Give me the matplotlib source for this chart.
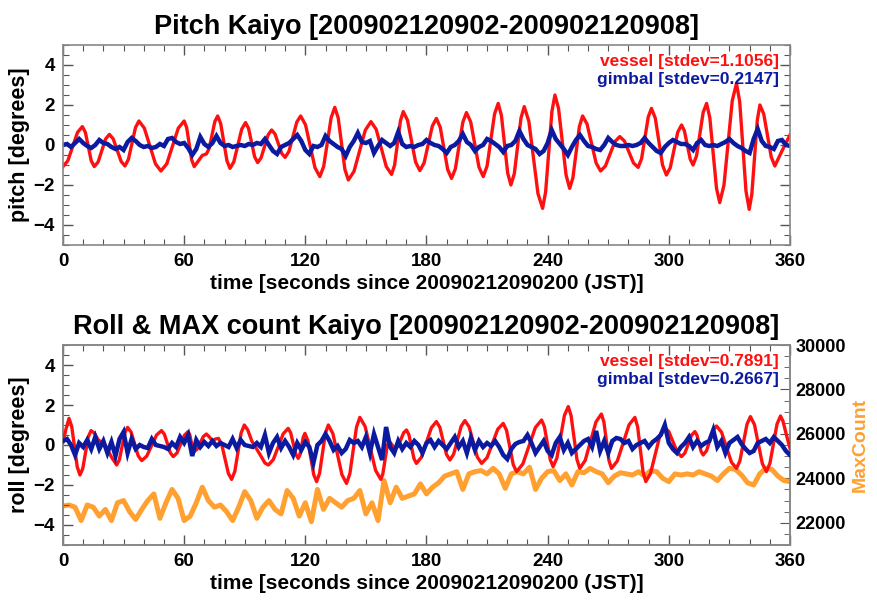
import numpy as np
import matplotlib
matplotlib.use("Agg")
import matplotlib.pyplot as plt
from matplotlib.ticker import MultipleLocator

plt.rcParams['font.family'] = ['Liberation Sans', 'DejaVu Sans']
plt.rcParams['font.weight'] = 'bold'

# ---- pitch panel: vessel (extrema and shoulders) ----
pitch_vessel_t = [0, 2.4, 7.2, 9.6, 11.1, 14.0, 15.5, 17.4, 21.1, 23, 24.9, 28.8, 30.7, 32.4,
                  35.9, 37.6, 40.3, 45.8, 48.5, 51.4, 57.1, 60, 61.25, 63.75, 65, 67, 69, 71,
                  72.4, 75.2, 76.6, 78.1, 81.2, 82.7, 84.6, 88.5, 90.4, 91.9, 94.9, 96.4, 98.1,
                  101.6, 103.3, 105, 108.3, 110, 111.9, 115.8, 117.7, 120.1, 124.8, 127.2,
                  129.1, 132.8, 134.6, 136.3, 139.6, 141.3, 144.1, 149.7, 152.5, 155.1, 160.1,
                  162.7, 164.2, 167.1, 168.5, 170.6, 174.6, 176.7, 178.8, 182.9, 184.9, 186.8,
                  190.5, 192.4, 194.3, 198, 199.8, 201.9, 206, 208.1, 210, 213.7, 215.5, 217.1,
                  220.2, 221.8, 223.5, 226.8, 228.4, 230.7, 235.2, 237.5, 239, 242.1, 243.6,
                  245.4, 249.1, 250.9, 252.5, 255.7, 257.3, 259.5, 264, 266.2, 268.6, 273.3,
                  275.7, 278, 282.5, 284.8, 286.5, 289.8, 291.4, 293.3, 296.9, 298.8, 300.7,
                  304.4, 306.3, 307.7, 310.6, 312, 313.7, 317, 318.7, 320.3, 323.6, 325.2,
                  327.3, 331.4, 333.5, 335.1, 338.2, 339.8, 341.1, 343.8, 345.1, 347, 350.7,
                  352.5, 356, 360]
pitch_vessel_v = [-1.08, -0.79, 0.63, 0.92, 0.63, -0.79, -1.08, -0.85, 0.30, 0.53, 0.30, -0.82,
                  -1.05, -0.72, 0.87, 1.2, 0.84, -0.94, -1.3, -0.94, 0.84, 1.2, 0.87, -0.75,
                  -1.08, -0.8, -0.52, -0.45, -0.17, 1.17, 1.45, 1.07, -0.79, -1.17, -0.84, 0.79,
                  1.12, 0.83, -0.59, -0.88, -0.64, 0.51, 0.75, 0.55, -0.42, -0.62, -0.32, 1.15,
                  1.45, 1.01, -1.14, -1.58, -1.07, 1.37, 1.88, 1.35, -1.22, -1.75, -1.32, 0.74,
                  1.17, 0.78, -1.08, -1.47, -1.01, 1.21, 1.67, 1.24, -0.85, -1.28, -0.9, 0.95,
                  1.33, 0.89, -1.23, -1.67, -1.19, 1.14, 1.62, 1.15, -1.11, -1.58, -1.05, 1.55,
                  2.08, 1.48, -1.4, -2.0, -1.43, 1.35, 1.92, 1.18, -2.43, -3.17, -2.34, 1.67,
                  2.5, 1.82, -1.49, -2.17, -1.64, 0.92, 1.45, 1.05, -0.9, -1.3, -1.05, 0.17,
                  0.42, 0.2, -0.9, -1.12, -0.69, 1.4, 1.83, 1.34, -1.01, -1.5, -1.14, 0.64, 1.0,
                  0.71, -0.71, -1.0, -0.55, 1.63, 2.08, 1.36, -2.16, -2.88, -2.01, 2.21, 3.08,
                  2.16, -2.3, -3.22, -2.46, 1.24, 2.0, 1.55, -0.6, -1.05, -0.3, 0.5]

# gimbal pitch, every 2 s
pitch_gimbal = [0.0, 0.05, -0.1, 0.1, 0.3, 0.1, -0.05, -0.15, 0.0, 0.25, 0.1, 0.05, -0.1, -0.2,
                -0.1, -0.25, 0.15, 0.35, 0.2, 0.0, -0.1, -0.05, -0.15, -0.1, 0.05, -0.05, 0.3,
                0.35, 0.15, 0.05, 0.1, -0.15, -0.5, -0.2, 0.4, 0.05, -0.1, 0.1, 0.45, 0.1,
                -0.05, 0.0, -0.1, -0.05, 0.0, -0.05, 0.05, 0.0, 0.1, 0.05, 0.3, 0.0, -0.3,
                -0.45, -0.1, 0.0, 0.1, 0.3, 0.5, 0.2,
                -0.25, -0.45, -0.05, -0.1, 0.0, 0.45, 0.2, 0.05, -0.1, -0.2, -0.55, -0.1, 0.2,
                0.6, 0.15, 0.1, 0.2, -0.4, -0.05, 0.25, 0.1, -0.05, 0.1, 0.65, 0.05, -0.1,
                -0.05, -0.1, 0.0, 0.05, 0.25, 0.1, 0.0, -0.05, -0.2, -0.4, -0.1, 0.0, 0.2,
                0.55, 0.15, 0.0, -0.3, -0.1, 0.0, 0.3, 0.2, 0.05, -0.1, -0.35, -0.05, 0.0,
                0.2, 0.7, 0.3, 0.0, -0.1, -0.2, -0.45, -0.3, 0.1, 0.75, 0.3, 0.05, -0.2, -0.5,
                -0.1, 0.25, 0.5, 0.2, -0.05, -0.1, -0.2, -0.25, 0.0, 0.35, 0.15, 0.0, -0.05,
                -0.05, 0.0, -0.05, 0.0, 0.1, 0.35, 0.1, -0.1, -0.3, -0.4, -0.1, 0.1, 0.25,
                0.15, 0.05, 0.05, -0.05, -0.25, 0.1, 0.25, 0.0, -0.05, 0.0, -0.05, 0.05, 0.15,
                0.3, 0.1, -0.05, -0.15, -0.3, -0.4, 0.3, 0.8, 0.2, -0.05, -0.1, -0.2, 0.2,
                0.25, 0.0, -0.05]

# ---- roll panel: vessel ----
roll_vessel_t = [0, 1.5, 3, 4.35, 7.05, 8.4, 9.8, 12.5, 13.9, 15.5, 17.5, 20.5, 24, 26.6,
                 27.95, 30.65, 32, 33.75, 37.25, 39, 41.45, 46.35, 48.8, 50.25, 53.15, 54.6,
                 56.45, 60.15, 62, 62.75, 64.25, 65, 66.5, 69.5, 71, 72.5, 74, 75.5, 77, 78.6,
                 81.9, 83.5, 85.1, 88.2, 89.8, 91.5, 93.5, 95.9, 98, 100, 101.7, 104.15,
                 109.05, 111.5, 112.75, 115.25, 116.5, 117.3, 119, 119.8, 121.25, 124.15,
                 125.6, 127.05, 129.95, 131.4, 133.65, 138.15, 140.4, 142.05, 145.35, 147,
                 149.6, 154.8, 157.4, 158.4, 160.5, 161.5, 163, 164.5, 165.9, 168.7, 170.1,
                 171.3, 173.8, 175, 177.5, 182.4, 184.9, 186.6, 189.9, 191.6, 193.45, 197.15,
                 199, 201.1, 205.2, 207.3, 210, 215.3, 218, 219.65, 222.95, 224.6, 227.7,
                 233.9, 237, 238.4, 241.3, 242.7, 244.6, 248.3, 250.2, 251.6, 254.5, 255.9,
                 258.6, 263.9, 266.6, 267.85, 270.35, 271.6, 274.5, 280.3, 283.2, 284.55,
                 287.25, 288.6, 290.9, 295.6, 297.9, 300, 304.2, 306.3, 307.95, 311.25, 312.9,
                 313.9, 316, 317, 318.65, 321.95, 323.6, 326.1, 331, 333.5, 335.2, 338.7,
                 340.4, 342.4, 346.3, 348.3, 350.05, 353.55, 355.3, 356.5, 358.5, 360]
roll_vessel_v = [0.15, 0.8, 1.33, 0.92, -1.09, -1.5, -1.18, 0.40, 0.72, 0.6, 0.25, 0.05, -0.6,
                 -1.0, -0.73, 0.61, 0.88, 0.64, -0.54, -0.78, -0.56, 0.5, 0.72, 0.53, -0.39,
                 -0.58, -0.4, 0.49, 0.67, 0.52, -0.18, -0.33, -0.2, 0.42, 0.55, 0.4, 0.2, 0.3,
                 0.33, 0.03, -1.42, -1.72, -1.32, 0.6, 1.0, 0.75, 0.2, -0.2, -0.55, -0.9, -1.0,
                 -0.73, 0.56, 0.83, 0.61, -0.45, -0.67, -0.49, 0.4, 0.58, 0.23, -1.48, -1.83,
                 -1.42, 0.59, 1.0, 0.57, -1.49, -1.92, -1.44, 0.9, 1.38, 0.93, -1.27, -1.72,
                 -1.44, -0.08, 0.2, 0.0, -0.2, -0.06, 0.61, 0.75, 0.51, -0.68, -0.92, -0.61,
                 0.86, 1.17, 0.89, -0.47, -0.75, -0.46, 0.93, 1.22, 0.91, -0.61, -0.92, -0.63,
                 0.79, 1.08, 0.73, -0.98, -1.33, -0.95, 0.87, 1.25, 0.91, -0.74, -1.08, -0.64,
                 1.48, 1.92, 1.47, -0.72, -1.17, -0.77, 1.15, 1.55, 1.15, -0.77, -1.17, -0.8,
                 1.01, 1.38, 0.91, -1.36, -1.83, -1.43, 0.48, 0.88, 0.67, -0.37, -0.58, -0.4,
                 0.49, 0.67, 0.5, -0.33, -0.5, -0.29, 0.74, 0.95, 0.64, -0.86, -1.17, -0.79,
                 1.04, 1.42, 1.02, -0.93, -1.33, -0.92, 1.04, 1.45, 1.2, 0.4, -0.17]

# gimbal roll, every 2 s
roll_gimbal = [0.2, 0.3, 0.0, -0.5, 0.1, -0.1, 0.25, -0.2, 0.4, -0.2, 0.2, -0.4, 0.15, -0.55,
               0.3, 0.65, -0.4, 0.3, -0.2, 0.0, -0.1, -0.15, 0.3, 0.0, -0.05, -0.1, -0.2, 0.1,
               -0.1, 0.4, 0.1, 0.5, -0.55, 0.25, -0.1, 0.15, -0.05, 0.2, -0.05, 0.1, 0.0, -0.1,
               0.3, -0.15, 0.25, 0.0, -0.05, -0.1, 0.1, -0.1, 0.5, -0.4, 0.1, 0.4, -0.15, 0.2,
               -0.1, -0.5, 0.1, -0.25, 0.15, -0.1, -0.9, 0.0, 0.2, 0.55, 0.2, -0.25, -0.05,
               -0.4, -0.2, 0.25, 0.1, 0.2, -0.1, 0.4, -0.4, 0.55, -0.1, -0.75, 0.9, -0.1, -0.4,
               0.2, -0.2, 0.1, -0.1, 0.2, 0.0, -0.4, 0.1, 0.25, -0.1, 0.2, 0.0, -0.2, 0.1, 0.4,
               -0.1, 0.2, -0.4, 0.35, -0.25, 0.2, -0.1, 0.1, -0.05, 0.2, -0.1, -0.5, -0.7, -0.2,
               0.05, 0.15, 0.2, 0.5, 0.1, -0.4, -0.1, 0.2, -0.3, -0.5, 0.1, 0.4, -0.25, 0.1,
               -0.4, -0.2, 0.0, 0.2, 0.3, -0.1, 0.7, -0.3, 0.2, -0.4, 0.2, 0.35, 0.3, 0.1, 0.2,
               -0.2, 0.0, 0.1, 0.2, -0.1, 0.15, 0.3, 0.5, 1.0, 0.1, -0.2, -0.4, -0.1, 0.1, 0.4,
               -0.1, 0.2, -0.05, 0.1, 0.2, 0.75, -0.1, 0.2, -0.4, 0.1, 0.25, 0.4, 0.05, -0.2,
               -0.4, -0.3, 0.1, 0.2, 0.3, 0.1, 0.4, 0.2, 0.0, -0.3, -0.5]

# MaxCount, every 3 s
max_count = [22750, 22800, 22700, 22100, 22800, 22700, 22300, 22600, 22100, 22900, 23000,
             22500, 22150, 22600, 23000, 23300, 22200, 22900, 23500, 23100, 22100, 22300,
             22900, 23600, 23000, 22700, 22800, 22500, 22100, 22700, 23400, 23000, 22200,
             22700, 23000, 22600, 22400, 23450, 23100, 22300, 22900, 22050, 23500, 22600,
             23100, 22900, 22700, 23000, 23100, 23450, 22400, 22900, 22100, 23900, 22900,
             23600, 23100, 23200, 23300, 23750, 23300, 23600, 23800, 24100, 24200, 24300,
             23500, 24200, 24300, 24350, 24200, 24450, 24200, 23550, 24200, 24300, 24200,
             24500, 23500, 24000, 24300, 24350, 23900, 24200, 23700, 24300, 24250, 24450,
             24300, 24200, 23800, 24100, 24250, 24200, 24150, 24300, 24100, 24350, 24300,
             24000, 23850, 24200, 24150, 24200, 24150, 24300, 24200, 24100, 23900, 24200,
             24450, 24400, 24150, 23800, 23700, 24200, 24450, 24400, 24100, 23900, 23850]

pitch_stdev = "1.1056"
pitch_gimbal_stdev = "0.2147"
roll_stdev = "0.7891"
roll_gimbal_stdev = "0.2667"

RED = '#ff1010'
BLUE = '#0c1aa0'
ORANGE = '#ffa030'

t_gimbal = np.arange(len(pitch_gimbal)) * 2
t_roll_gimbal = np.arange(len(roll_gimbal)) * 2
t_count = np.arange(len(max_count)) * 3

fig = plt.figure(figsize=(8.77, 6.04), dpi=100)
ax1 = fig.add_axes([0.0718, 0.5944, 0.829, 0.3311])
ax2 = fig.add_axes([0.0718, 0.0977, 0.829, 0.3311])


def style_axis(ax, right=True):
    ax.set_xlim(0, 360)
    ax.set_ylim(-5, 5)
    ax.xaxis.set_major_locator(MultipleLocator(60))
    ax.xaxis.set_minor_locator(MultipleLocator(10))
    ax.yaxis.set_major_locator(MultipleLocator(2))
    ax.yaxis.set_minor_locator(MultipleLocator(0.5))
    ax.tick_params(which='both', direction='in', top=True, right=right, colors='#555555',
                   labelcolor='black', labelsize=13.5, pad=6)
    ax.tick_params(which='major', length=7, width=1)
    ax.tick_params(which='minor', length=4, width=0.8)
    for s in ax.spines.values():
        s.set_color('#888888')
        s.set_linewidth(1.2)
    for lab in ax.get_xticklabels() + ax.get_yticklabels():
        lab.set_fontweight('bold')
    ax.set_xlabel('time [seconds since 20090212090200 (JST)]', fontsize=15,
                  fontweight='bold', labelpad=3)


# top panel
ax1.plot(pitch_vessel_t, pitch_vessel_v, color=RED, lw=2.4, solid_joinstyle='round')
ax1.plot(t_gimbal, pitch_gimbal, color=BLUE, lw=3.2, solid_joinstyle='miter')
style_axis(ax1)
ax1.set_ylabel('pitch [degrees]', fontsize=15.5, fontweight='bold', labelpad=2)
ax1.set_title('Pitch Kaiyo [200902120902-200902120908]', fontsize=19.5, fontweight='bold', pad=8)
ax1.text(0.985, 0.955, 'vessel [stdev=%s]' % pitch_stdev, transform=ax1.transAxes,
         ha='right', va='top', color=RED, fontsize=12.5, fontweight='bold')
ax1.text(0.985, 0.865, 'gimbal [stdev=%s]' % pitch_gimbal_stdev, transform=ax1.transAxes,
         ha='right', va='top', color=BLUE, fontsize=12.5, fontweight='bold')

# bottom panel
ax2.plot(roll_vessel_t, roll_vessel_v, color=RED, lw=2.4, solid_joinstyle='round', zorder=3)
ax2.plot(t_roll_gimbal, roll_gimbal, color=BLUE, lw=3.2, solid_joinstyle='miter', zorder=4)
style_axis(ax2, right=False)
ax2.set_ylabel('roll [degrees]', fontsize=15.5, fontweight='bold', labelpad=2)
ax2.set_title('Roll & MAX count Kaiyo [200902120902-200902120908]', fontsize=19.5,
              fontweight='bold', pad=8)
ax2.text(0.985, 0.955, 'vessel [stdev=%s]' % roll_stdev, transform=ax2.transAxes,
         ha='right', va='top', color=RED, fontsize=12.5, fontweight='bold', zorder=6)
ax2.text(0.985, 0.865, 'gimbal [stdev=%s]' % roll_gimbal_stdev, transform=ax2.transAxes,
         ha='right', va='top', color=BLUE, fontsize=12.5, fontweight='bold', zorder=6)

ax3 = ax2.twinx()
ax3.plot(t_count, max_count, color=ORANGE, lw=3.6, solid_joinstyle='round')
ax3.set_ylim(21000, 30000)
ax3.yaxis.set_major_locator(MultipleLocator(2000))
ax3.yaxis.set_minor_locator(MultipleLocator(500))
ax3.tick_params(which='both', direction='in', colors='#555555', labelcolor='black',
                labelsize=13, pad=4)
ax3.tick_params(which='major', length=7)
ax3.tick_params(which='minor', length=4)
for lab in ax3.get_yticklabels():
    lab.set_fontweight('bold')
for s in ax3.spines.values():
    s.set_color('#888888')
    s.set_linewidth(1.2)
ax3.set_ylabel('MaxCount', color=ORANGE, fontsize=14, fontweight='bold', labelpad=4)
ax2.set_zorder(ax3.get_zorder() + 1)
ax2.patch.set_visible(False)

fig.savefig('out.png', dpi=100)
